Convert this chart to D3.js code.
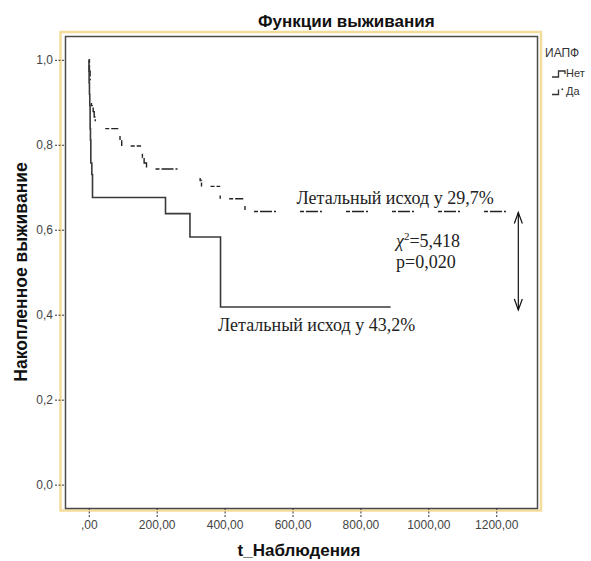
<!DOCTYPE html>
<html>
<head>
<meta charset="utf-8">
<script src="https://cdn.jsdelivr.net/npm/d3@7/dist/d3.min.js"></script>
<style>
  html, body { margin: 0; padding: 0; background: #fff; }
  svg { display: block; }
</style>
</head>
<body>
<svg id="chart" width="591" height="561"></svg>
<script>
// Kaplan–Meier survival steps, group "Нет" (solid line)
const netTimes = [0, 0.5, 1, 2, 3, 4, 5, 6, 9, 11, 226, 298, 388, 889];
const netSurv  = [1.0, 0.973, 0.946, 0.919, 0.892, 0.838, 0.811, 0.757, 0.730, 0.676, 0.638, 0.583, 0.418, 0.418];

// Kaplan–Meier survival steps, group "Да" (dashed line)
const daTimes = [0, 2, 4, 6, 8, 13, 16, 19, 22, 87, 92, 97, 154, 158, 163, 170, 328, 332, 387, 455, 460, 1260];
const daSurv  = [1.0, 0.973, 0.946, 0.919, 0.892, 0.878, 0.865, 0.851, 0.838, 0.824, 0.811, 0.797, 0.784, 0.770, 0.757, 0.743, 0.716, 0.702, 0.673, 0.657, 0.643, 0.643];

// Axis ticks and their labels
const xTicks = [0, 200, 400, 600, 800, 1000, 1200];
const xTickLabels = [",00", "200,00", "400,00", "600,00", "800,00", "1000,00", "1200,00"];
const yTicks = [0, 0.2, 0.4, 0.6, 0.8, 1.0];
const yTickLabels = ["0,0", "0,2", "0,4", "0,6", "0,8", "1,0"];

// Legend entries
const legendTitle = "ИАПФ";
const legendLabels = ["Нет", "Да"];

const svg = d3.select("#chart");
const frame = { left: 65, top: 36, right: 537, bottom: 508 };

const x = d3.scaleLinear().domain([-70, 1320]).range([frame.left, frame.right]);
const y = d3.scaleLinear().domain([-0.055, 1.056]).range([frame.bottom, frame.top]);

const sans = "'Liberation Sans', Arial, sans-serif";
const serif = "'Liberation Serif', 'Times New Roman', serif";

// Outer pale-gold border and inner plot frame
svg.append("rect")
  .attr("x", 60.5).attr("y", 32)
  .attr("width", 480.5).attr("height", 478.5)
  .attr("fill", "#fff")
  .attr("stroke", "#f4dc9a").attr("stroke-width", 2.5);
svg.append("rect")
  .attr("x", frame.left + 0.5).attr("y", frame.top + 0.5)
  .attr("width", frame.right - frame.left).attr("height", frame.bottom - frame.top)
  .attr("fill", "#fff")
  .attr("stroke", "#4a4a4a").attr("stroke-width", 1.5);

// Axes
const xAxis = d3.axisBottom(x)
  .tickValues(xTicks)
  .tickFormat((d, i) => xTickLabels[i])
  .tickSize(9).tickPadding(3).tickSizeOuter(0);
const yAxis = d3.axisLeft(y)
  .tickValues(yTicks)
  .tickFormat((d, i) => yTickLabels[i])
  .tickSize(9).tickPadding(2).tickSizeOuter(0);

const gx = svg.append("g").attr("transform", `translate(0,${frame.bottom})`).call(xAxis);
const gy = svg.append("g").attr("transform", `translate(${frame.left - 1},0)`).call(yAxis);
[gx, gy].forEach(g => {
  g.select(".domain").remove();
  g.selectAll(".tick line").attr("stroke", "#333").attr("stroke-dasharray", "2,1.5");
  g.selectAll(".tick text").attr("fill", "#444").style("font-family", sans).style("font-size", "12px");
});

// Step-function vertices in pixel space
function stepVertices(times, surv) {
  const pts = [[x(times[0]), y(surv[0])]];
  for (let i = 1; i < times.length; i++) {
    pts.push([x(times[i]), y(surv[i - 1])]);
    if (surv[i] !== surv[i - 1]) pts.push([x(times[i]), y(surv[i])]);
  }
  return pts;
}

// Split a step polyline into runs: clusters of short drops, and long flat stretches,
// so the dash pattern restarts on every run.
function splitRuns(pts, minFlat) {
  const runs = [];
  let cur = [pts[0]];
  let curFlat = null;
  for (let k = 0; k < pts.length - 1; k++) {
    const a = pts[k], b = pts[k + 1];
    const isFlat = Math.abs(a[1] - b[1]) < 0.01 && (b[0] - a[0]) > minFlat;
    if (curFlat === null) curFlat = isFlat;
    if (isFlat !== curFlat) {
      runs.push(cur);
      cur = [a];
      curFlat = isFlat;
    }
    cur.push(b);
  }
  runs.push(cur);
  return runs;
}

// Survival curves
const dashed = "4,2,12,2,2,24";
const daRuns = splitRuns(stepVertices(daTimes, daSurv), 8);
svg.append("g").selectAll("path")
  .data(daRuns)
  .join("path")
  .attr("d", d => d3.line()(d))
  .attr("fill", "none")
  .attr("stroke", "#222")
  .attr("stroke-width", 1.4)
  .attr("stroke-dasharray", dashed)
  .attr("stroke-dashoffset", (d, i) => i === 0 ? 0 : 37);

svg.append("path")
  .attr("d", d3.line()(stepVertices(netTimes, netSurv)))
  .attr("fill", "none")
  .attr("stroke", "#3a3a3a")
  .attr("stroke-width", 1.6);

// Annotations
const ann = svg.append("g").style("font-family", serif).attr("fill", "#222");
ann.append("text")
  .attr("x", 296.5).attr("y", 203.5)
  .style("font-size", "18px")
  .text("Летальный исход у 29,7%");
ann.append("text")
  .attr("x", 218).attr("y", 330.5)
  .style("font-size", "18px")
  .text("Летальный исход у 43,2%");

const chi = ann.append("text").attr("x", 396).attr("y", 247).style("font-size", "18px");
chi.append("tspan").style("font-style", "italic").text("χ");
chi.append("tspan").attr("dy", -7).style("font-size", "11px").text("2");
chi.append("tspan").attr("dy", 7).text("=5,418");
ann.append("text")
  .attr("x", 396).attr("y", 268)
  .style("font-size", "18px")
  .text("p=0,020");

// Double-headed arrow spanning the gap between the two final survival levels
const arrowT = 1265;
const ax = x(arrowT);
const aTop = y(daSurv[daSurv.length - 1]) + 1;
const aBot = y(netSurv[netSurv.length - 1]) + 3;
svg.append("line")
  .attr("x1", ax).attr("x2", ax).attr("y1", aTop).attr("y2", aBot)
  .attr("stroke", "#111").attr("stroke-width", 1.2);
svg.append("path")
  .attr("d", `M${ax - 4},${aTop + 11}L${ax},${aTop}L${ax + 4},${aTop + 11}`)
  .attr("fill", "none").attr("stroke", "#111").attr("stroke-width", 1.2);
svg.append("path")
  .attr("d", `M${ax - 4},${aBot - 11}L${ax},${aBot}L${ax + 4},${aBot - 11}`)
  .attr("fill", "none").attr("stroke", "#111").attr("stroke-width", 1.2);

// Titles
svg.append("text")
  .attr("x", 258).attr("y", 26.5)
  .style("font-family", sans).style("font-size", "17px").style("font-weight", "bold")
  .attr("fill", "#111")
  .text("Функции выживания");
svg.append("text")
  .attr("x", (frame.left + frame.right) / 2 - 2).attr("y", 556)
  .attr("text-anchor", "middle")
  .style("font-family", sans).style("font-size", "17px").style("font-weight", "bold")
  .attr("fill", "#111")
  .text("t_Наблюдения");
svg.append("text")
  .attr("transform", "translate(27,272) rotate(-90)")
  .attr("text-anchor", "middle")
  .style("font-family", sans).style("font-size", "17.5px").style("font-weight", "bold")
  .attr("fill", "#111")
  .text("Накопленное выживание");

// Legend
const lg = svg.append("g").style("font-family", sans).attr("fill", "#333");
lg.append("text").attr("x", 545).attr("y", 56.5).style("font-size", "12px").text(legendTitle);
legendLabels.forEach((lab, i) => {
  const ly = 77 + i * 17.5;
  lg.append("text").attr("x", 566).attr("y", ly).style("font-size", "11px").text(lab);
  if (i === 0) {
    lg.append("path")
      .attr("d", `M552,${ly}H558.5V${ly - 6}H565V${ly - 3}`)
      .attr("fill", "none").attr("stroke", "#333").attr("stroke-width", 1.3);
  } else {
    lg.append("path")
      .attr("d", `M552,${ly}H558.5V${ly - 5}`)
      .attr("fill", "none").attr("stroke", "#333").attr("stroke-width", 1.3);
    lg.append("rect").attr("x", 561.5).attr("y", ly - 6).attr("width", 1.6).attr("height", 1.6).attr("fill", "#333");
  }
});
</script>
</body>
</html>
